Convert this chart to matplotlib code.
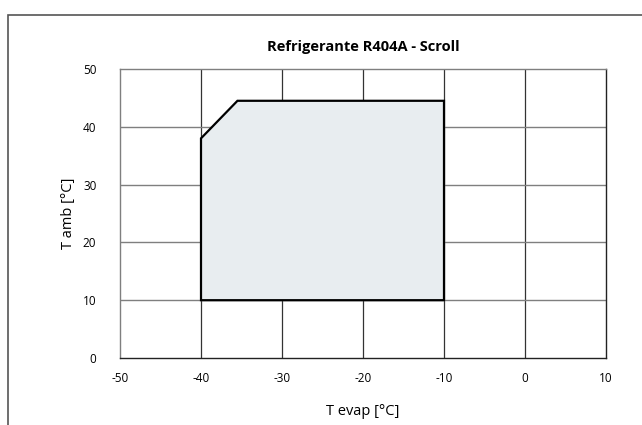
import matplotlib.pyplot as plt
from matplotlib.patches import Polygon, Rectangle

# Envelope data
t_evap = [-40, -40, -35.5, -10, -10]
t_amb = [10, 38, 44.5, 44.5, 10]

x_ticks = [-50, -40, -30, -20, -10, 0, 10]
y_ticks = [0, 10, 20, 30, 40, 50]

plt.rcParams['font.family'] = ['Open Sans', 'DejaVu Sans']
plt.rcParams['axes.unicode_minus'] = False

fig = plt.figure(figsize=(6.42, 4.25), dpi=100)
ax = fig.add_axes([120 / 642, 1 - 358 / 425, 486 / 642, 289 / 425])

# outer frame (left and top edges visible)
fig.patches.append(Rectangle((8 / 642, -0.1), 1.2, 1 - 15 / 425 + 0.1, transform=fig.transFigure,
                             fill=False, edgecolor='#555555', linewidth=1.2))

ax.set_xlim(-50, 10)
ax.set_ylim(0, 50)
ax.set_xticks(x_ticks)
ax.set_yticks(y_ticks)
ax.tick_params(length=0, labelsize=8.5, pad=10)
ax.tick_params(axis='y', pad=17)

# grid
for x in x_ticks[1:-1]:
    ax.axvline(x, color='#333333', linewidth=0.9, zorder=1)
for y in y_ticks[1:-1]:
    ax.axhline(y, color='#7f7f7f', linewidth=1.0, zorder=1)

ax.spines['left'].set_color('#7f7f7f')
ax.spines['top'].set_color('#7f7f7f')
ax.spines['bottom'].set_color('#222222')
ax.spines['right'].set_color('#222222')
for s in ax.spines.values():
    s.set_linewidth(1.0)

poly = Polygon(list(zip(t_evap, t_amb)), closed=True, facecolor='#e8edf0',
               edgecolor='black', linewidth=1.6, zorder=2)
ax.add_patch(poly)

ax.set_title('Refrigerante R404A - Scroll', fontsize=10.5, fontweight='bold', pad=13)
ax.set_xlabel('T evap [°C]', fontsize=10.5, labelpad=14)
ax.set_ylabel('T amb [°C]', fontsize=10.5, labelpad=5)

fig.savefig('out.png', dpi=100)
